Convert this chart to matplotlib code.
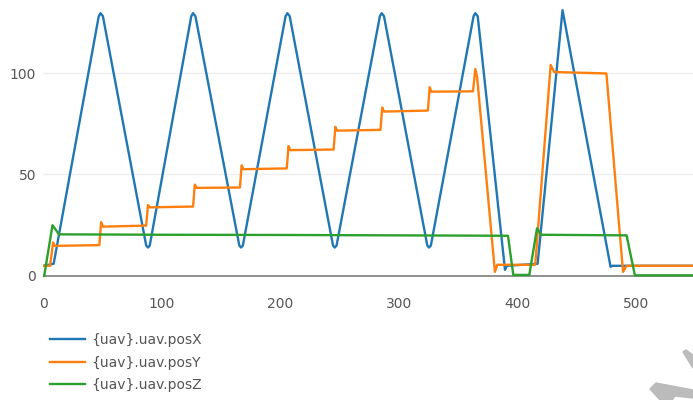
import matplotlib.pyplot as plt
from matplotlib.patches import Polygon

# posX (triangle sweeps)
t_x = [0, 9, 47, 48.5, 50.5, 87, 88.5, 90, 125, 126.5, 128.5, 165.5, 167, 168.5,
       204.5, 206, 208, 244.5, 246, 247.5, 284, 285.5, 287.5, 324, 325.5, 327,
       363, 364.5, 366.5, 389.5, 391, 417, 438, 478.5, 480, 548]
pos_x = [5, 6, 128, 129.5, 128, 15, 14, 15, 128, 129.5, 128, 15, 14, 15,
         128, 129.5, 128, 15, 14, 15, 128, 129.5, 128, 15, 14, 15,
         128, 129.5, 128, 3, 5, 6, 131, 4.5, 5, 5]

# posY (stairs)
t_y = [0, 6, 8.5, 10, 47.5, 49, 50.5, 87, 88.5, 90, 126.5, 128, 129.5, 166, 167.5, 169,
       205.5, 207, 208.5, 245, 246.5, 248, 284.5, 286, 287.5, 324.5, 326, 327.5,
       362.5, 364.5, 366, 381, 383, 415, 428, 431, 475, 489, 492, 548]
pos_y = [5, 5, 16.5, 14.8, 15.2, 26.5, 24.3, 24.8, 35, 33.8, 34.2, 45, 43.4, 43.6, 54.5, 52.6,
         53, 64, 62, 62.3, 73.5, 71.6, 72, 83, 81, 81.5, 93, 90.8,
         91, 102, 98, 2, 5.5, 5.5, 104, 100.5, 99.8, 2, 5, 5]

# posZ (altitude)
t_z = [0, 1, 8, 13.5, 100, 200, 300, 392, 396.5, 410, 416.5, 420, 492, 499, 548]
pos_z = [0, 0, 25, 20.5, 20.3, 20.2, 20, 19.8, 0.5, 0.5, 23.5, 20.3, 20, 0.3, 0.3]

labels = ["{uav}.uav.posX", "{uav}.uav.posY", "{uav}.uav.posZ"]
colors = ["#1f77b4", "#ff7f0e", "#2ca02c"]

fig = plt.figure(figsize=(6.93, 4.0), dpi=100)
ax = fig.add_axes([43 / 693, 120 / 400, 650 / 693, 280 / 400])

ax.plot(t_x, pos_x, color=colors[0], lw=1.7, label=labels[0])
ax.plot(t_y, pos_y, color=colors[1], lw=1.7, label=labels[1])
ax.plot(t_z, pos_z, color=colors[2], lw=1.7, label=labels[2])

ax.set_xlim(0, 548)
ax.set_ylim(-2, 136)
ax.set_xticks([0, 100, 200, 300, 400, 500])
ax.set_yticks([0, 50, 100])
ax.axhline(0, color="#888888", lw=1.3, zorder=1)
for yv in [50, 100]:
    ax.axhline(yv, color="#eeeeee", lw=1, zorder=0)
for s in ax.spines.values():
    s.set_visible(False)
ax.tick_params(length=0, labelsize=10, colors="#555555")
ax.tick_params(axis="x", pad=12)
ax.tick_params(axis="y", pad=5)

fig.legend(loc="upper left", bbox_to_anchor=(50 / 693, 1 - 333 / 400), frameon=False,
           fontsize=10, handlelength=2.5, handletextpad=0.5, labelspacing=0.62,
           labelcolor="#555555", borderaxespad=0, borderpad=0)

# watermark fragments in the corner (pixel coords, origin bottom-left)
wm_a = [(683, 48), (686, 50), (693, 45), (693, 32)]
wm_b = [(650, 11), (656, 17), (693, 10), (693, 2), (675, 4), (672, 0), (660, 0)]
for pts in (wm_a, wm_b):
    fig.patches.append(Polygon(pts, closed=True, transform=None, color="#bbbbbb"))

fig.savefig("out.png", dpi=100)
